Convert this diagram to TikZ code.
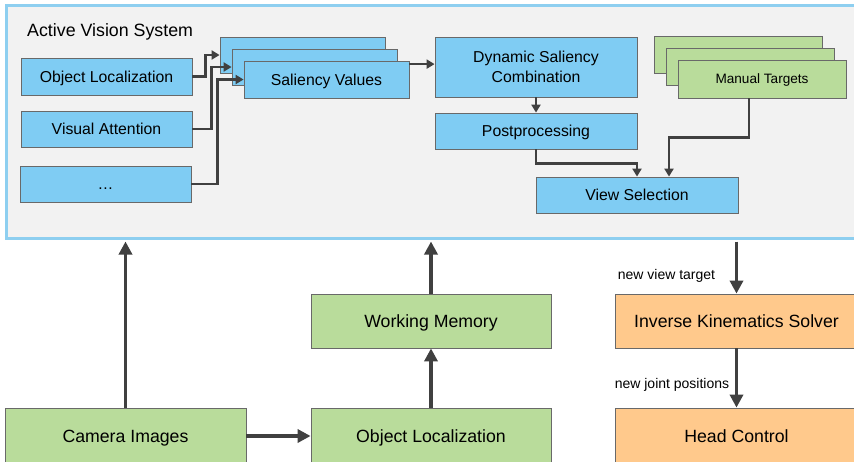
\documentclass[tikz,border=0pt]{standalone}
\usepackage{fontspec}
\setmainfont{Liberation Sans}
\usetikzlibrary{arrows.meta,calc}
\definecolor{boxblue}{RGB}{127,204,243}
\definecolor{boxgreen}{RGB}{185,220,155}
\definecolor{boxorange}{RGB}{255,201,140}
\definecolor{avsborder}{RGB}{142,207,240}
\definecolor{avsfill}{RGB}{242,242,242}
\definecolor{boxline}{RGB}{105,105,105}
\definecolor{arrowcol}{RGB}{64,64,64}
\tikzset{
  basebox/.style={rectangle, draw=boxline, line width=0.8pt, inner sep=0pt, align=center},
  onemid/.style={text height=11.3pt, text depth=0pt},
  onebig/.style={text height=12.7pt, text depth=0pt},
  onesmall/.style={text height=9.9pt, text depth=0pt},
  bluebox/.style={basebox, fill=boxblue, font=\fontsize{15.8}{20}\selectfont},
  greenbox/.style={basebox, fill=boxgreen},
  bigtext/.style={font=\fontsize{17.7}{21}\selectfont, onebig},
  arrsmall/.style={draw=arrowcol, line width=2.6pt, -{Triangle[length=8pt,width=9pt]}},
  arrbig/.style={draw=arrowcol, line width=3.6pt, -{Triangle[length=13pt,width=13pt]}},
  lbl/.style={font=\fontsize{14}{16}\selectfont, inner sep=0pt, onesmall}
}
\begin{document}
\begin{tikzpicture}[x=1pt,y=-1pt]
\useasboundingbox (0,0) rectangle (854,461);
\clip (0,0) rectangle (854,461);
\fill[white] (0,0) rectangle (854,461);
% container
\node[rectangle, draw=avsborder, fill=avsfill, line width=3pt, minimum width=875pt, minimum height=233pt, anchor=north west, inner sep=0pt] (avs) at (5,4) {};
\node[font=\fontsize{17.8}{20}\selectfont, onebig, anchor=west, inner sep=0pt] (avstitle) at (27,30.5) {Active Vision System};
% left inputs
\node[bluebox, onemid, minimum width=171pt, minimum height=37pt] (ol) at (106.5,76.5) {Object Localization};
\node[bluebox, onemid, minimum width=171pt, minimum height=36pt] (va) at (106.5,129) {Visual Attention};
\node[bluebox, onemid, minimum width=171pt, minimum height=36pt] (dots) at (105.5,184) {\dots};
% saliency stack
\node[bluebox, minimum width=165pt, minimum height=36pt] (salb) at (302.5,55) {};
\node[bluebox, minimum width=165pt, minimum height=36pt] (salm) at (314.5,67) {};
\node[bluebox, onemid, minimum width=165pt, minimum height=37pt] (salf) at (326.5,79.5) {Saliency Values};
% processing
\node[bluebox, minimum width=202pt, minimum height=60pt] (dsc) at (536,67) {Dynamic Saliency\\Combination};
\node[bluebox, onemid, minimum width=202pt, minimum height=36pt] (post) at (536,131) {Postprocessing};
\node[bluebox, onemid, minimum width=202pt, minimum height=36pt] (vs) at (637,195) {View Selection};
% manual targets stack
\node[greenbox, minimum width=168pt, minimum height=37pt] (mtb) at (738,54.5) {};
\node[greenbox, minimum width=168pt, minimum height=37pt] (mtm) at (750,66.5) {};
\node[greenbox, onesmall, minimum width=168pt, minimum height=38pt, font=\fontsize{13.6}{16}\selectfont] (mtf) at (762,79) {Manual Targets};
% bottom row
\node[greenbox, bigtext, minimum width=241pt, minimum height=56pt] (cam) at (125.5,436) {Camera Images};
\node[greenbox, bigtext, minimum width=240pt, minimum height=56pt] (olb) at (431,436) {Object Localization};
\node[greenbox, bigtext, minimum width=240pt, minimum height=54pt] (wm) at (431,321) {Working Memory};
\node[basebox, fill=boxorange, bigtext, minimum width=243pt, minimum height=54pt] (ik) at (736.5,321) {Inverse Kinematics Solver};
\node[basebox, fill=boxorange, bigtext, minimum width=243pt, minimum height=56pt] (hc) at (736.5,436) {Head Control};
% internal connectors
\draw[arrsmall] (ol.east) -- ++(13,0) |- (salb.west);
\draw[arrsmall] (va.east) -- ++(19,0) |- (salm.west);
\draw[arrsmall] (dots.east) -- ++(26,0) |- (salf.west);
\coordinate (s1) at ([yshift=-3.5pt]salf.north east);
\draw[arrsmall] (s1) -- (s1 -| dsc.west);
\draw[arrsmall] (dsc.south) -- (post.north);
\draw[arrsmall] (post.south) -- ++(0,14) -| (vs.north);
\coordinate (m1) at ([xshift=-13pt]mtf.south);
\coordinate (v2) at ([xshift=32pt]vs.north);
\draw[arrsmall] (m1) -- ++(0,39) -| (v2);
% outer connectors
\draw[arrbig] (cam.north) -- ([yshift=-1.5pt]cam.north |- avs.south);
\draw[arrbig, line width=4.6pt] (cam.east) -- (olb.west);
\draw[arrbig] (olb.north) -- (wm.south);
\draw[arrbig] (wm.north) -- ([yshift=-1.5pt]wm.north |- avs.south);
\draw[arrbig] ([yshift=-1.5pt]ik.north |- avs.south) -- (ik.north);
\draw[arrbig] (ik.south) -- (hc.north);
\node[lbl] (l1) at (666.5,275) {new view target};
\node[lbl] (l2) at (672,384) {new joint positions};
\end{tikzpicture}
\end{document}
